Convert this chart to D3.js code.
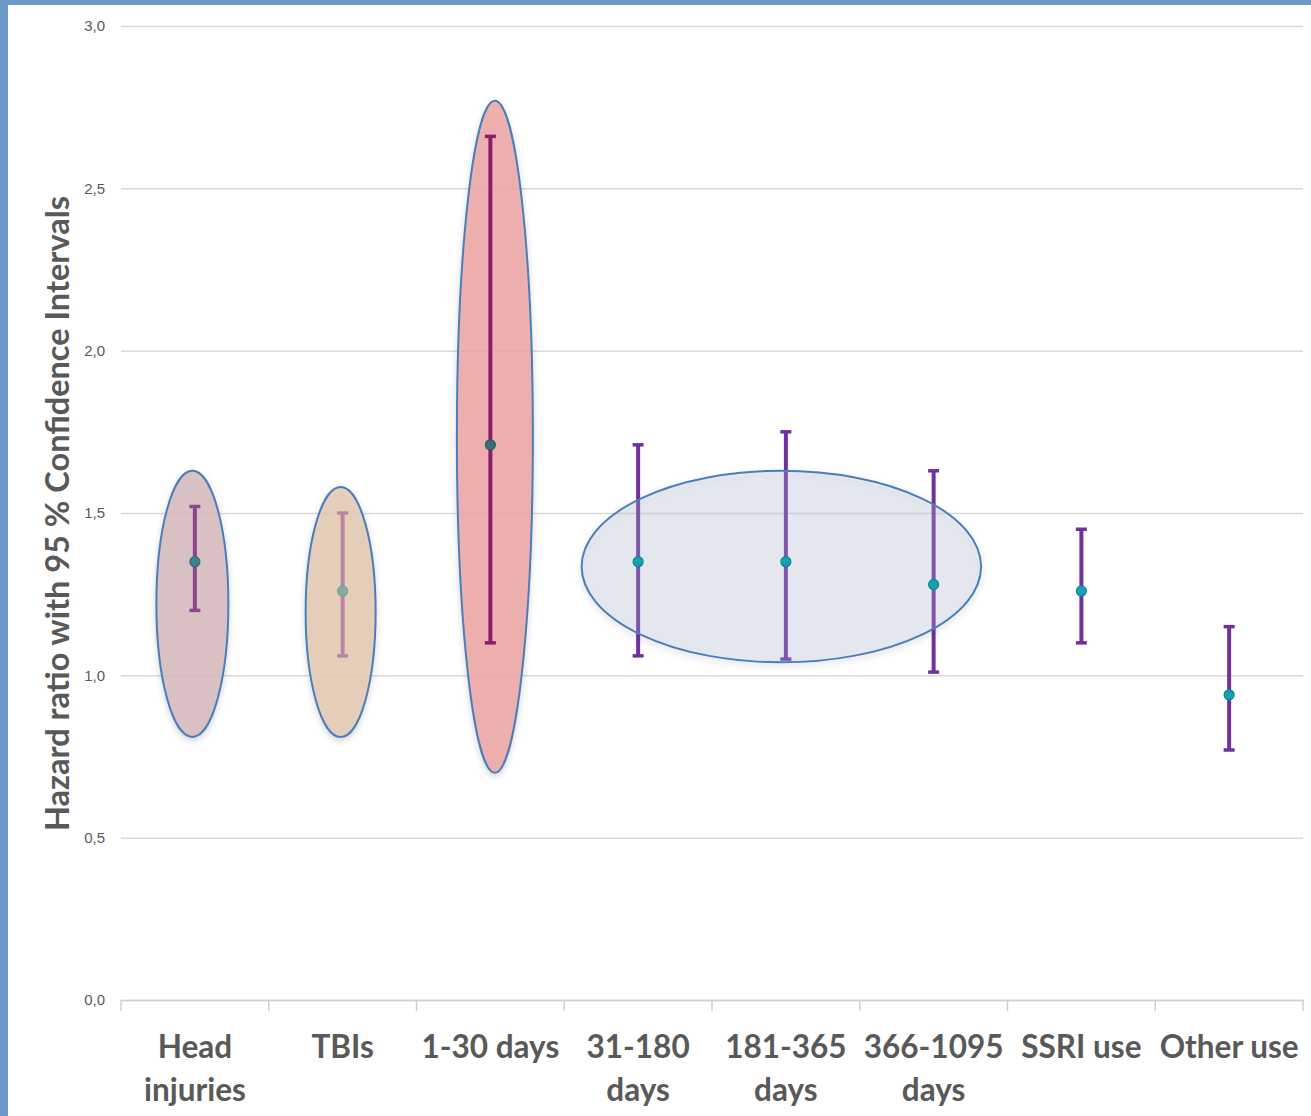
<!DOCTYPE html>
<html>
<head>
<meta charset="utf-8">
<script src="https://cdn.jsdelivr.net/npm/d3@7"></script>
<style>
  html, body { margin: 0; padding: 0; background: #fff; }
  svg { display: block; }
</style>
</head>
<body>
<svg id="chart" width="1311" height="1116"></svg>
<script>
// ---- data ----
const categories = ["Head injuries", "TBIs", "1-30 days", "31-180 days", "181-365 days", "366-1095 days", "SSRI use", "Other use"];
const labelLines = [["Head", "injuries"], ["TBIs"], ["1-30 days"], ["31-180", "days"], ["181-365", "days"], ["366-1095", "days"], ["SSRI use"], ["Other use"]];
const hazardRatio = [1.35, 1.26, 1.71, 1.35, 1.35, 1.28, 1.26, 0.94];
const ciLower     = [1.20, 1.06, 1.10, 1.06, 1.05, 1.01, 1.10, 0.77];
const ciUpper     = [1.52, 1.50, 2.66, 1.71, 1.75, 1.63, 1.45, 1.15];
const yTicks = [0, 0.5, 1.0, 1.5, 2.0, 2.5, 3.0];
const yTitle = "Hazard ratio with 95 % Confidence Intervals";

// highlight ellipses: first/last category spanned, value range covered
const ellipseFirst = ["Head injuries", "TBIs", "1-30 days", "31-180 days"];
const ellipseLast  = ["Head injuries", "TBIs", "1-30 days", "366-1095 days"];
const ellipseTop    = [1.63, 1.58, 2.77, 1.63];
const ellipseBottom = [0.81, 0.81, 0.70, 1.04];

// ---- styles ----
const ellipseFill = ["#d6b8bc", "#e4c9b1", "#eda6a4", "#b2bbd0"];
const ellipseFillOpacity = [0.85, 0.85, 0.85, 0.26];
const ellipsePadPx = [36, 35, 38, 52];
const ellipseDxPx = [-2.5, -2, 4.5, -4.5];
const barColors = ["#8c468e", "#b8879f", "#8a1c6c", "#7030a0", "#7030a0", "#7030a0", "#7030a0", "#7030a0"];
const pointFill = ["#3a8390", "#82b0a0", "#3a6e78", "#17a0b4", "#17a0b4", "#17a0b4", "#17a0b4", "#17a0b4"];
const pointStroke = ["#2e6f7a", "#77a292", "#2c5a63", "#0f8494", "#0f8494", "#0f8494", "#0f8494", "#0f8494"];

const svg = d3.select("#chart");
const W = 1311, H = 1116;
const margin = { left: 121, right: 8, top: 26, bottom: 116 };

// frame border (blue)
svg.append("rect").attr("x", 0).attr("y", 0).attr("width", W).attr("height", 5).attr("fill", "#6b98c9");
svg.append("rect").attr("x", 0).attr("y", 0).attr("width", 8).attr("height", H).attr("fill", "#6b98c9");

const x = d3.scaleBand().domain(categories).range([margin.left, W - margin.right]).padding(0);
const y = d3.scaleLinear().domain([0, 3]).range([H - margin.bottom, margin.top]);

// defs: shadow
const defs = svg.append("defs");
const f = defs.append("filter").attr("id", "shadow").attr("x", "-20%").attr("y", "-20%").attr("width", "140%").attr("height", "140%");
f.append("feDropShadow").attr("dx", 0).attr("dy", 3).attr("stdDeviation", 3).attr("flood-color", "#000").attr("flood-opacity", 0.18);

// gridlines
const yAxisG = svg.append("g").attr("transform", `translate(${margin.left},0)`)
  .call(d3.axisLeft(y).tickValues(yTicks).tickSize(-(W - margin.right - margin.left)).tickPadding(16)
    .tickFormat(d => d3.format(".1f")(d).replace(".", ",")));
yAxisG.select(".domain").remove();
yAxisG.selectAll(".tick line").attr("stroke", "#d9d9d9").attr("stroke-width", 1.5);
yAxisG.selectAll(".tick text").attr("fill", "#595959").attr("font-family", "'Liberation Sans', Arial, sans-serif").attr("font-size", 15);

// x axis line + separators
const xAxisG = svg.append("g").attr("transform", `translate(0,${y(0)})`)
  .call(d3.axisBottom(x).tickValues([]).tickSizeOuter(0));
xAxisG.select(".domain").attr("stroke", "#d0d0d0").attr("stroke-width", 1.5);
const bounds = categories.map(c => x(c)).concat([x(categories[categories.length - 1]) + x.bandwidth()]);
xAxisG.selectAll("line.sep").data(bounds).enter().append("line").attr("class", "sep")
  .attr("x1", d => d).attr("x2", d => d).attr("y1", 0).attr("y2", 11)
  .attr("stroke", "#d0d0d0").attr("stroke-width", 1.5);

// x labels
const cx = c => x(c) + x.bandwidth() / 2;
const lab = svg.append("g");
categories.forEach((c, i) => {
  const t = lab.append("text").attr("x", cx(c)).attr("y", 1058)
    .attr("text-anchor", "middle").attr("fill", "#595959")
    .attr("font-family", "Lato, 'Open Sans', sans-serif").attr("font-weight", "bold").attr("font-size", 31.5);
  labelLines[i].forEach((ln, j) => {
    t.append("tspan").attr("x", cx(c)).attr("dy", j === 0 ? 0 : 43).text(ln);
  });
});

// y title
svg.append("text")
  .attr("transform", `translate(69,${(195 + 832) / 2}) rotate(-90)`)
  .attr("text-anchor", "middle").attr("fill", "#595959")
  .attr("font-family", "Lato, 'Open Sans', sans-serif").attr("font-weight", "bold").attr("font-size", 32.5)
  .text(yTitle);

function drawEllipse(g, i) {
  const x1 = cx(ellipseFirst[i]), x2 = cx(ellipseLast[i]);
  g.append("ellipse")
    .attr("cx", (x1 + x2) / 2 + ellipseDxPx[i])
    .attr("cy", (y(ellipseTop[i]) + y(ellipseBottom[i])) / 2)
    .attr("rx", (x2 - x1) / 2 + ellipsePadPx[i])
    .attr("ry", (y(ellipseBottom[i]) - y(ellipseTop[i])) / 2)
    .attr("fill", ellipseFill[i]).attr("fill-opacity", ellipseFillOpacity[i])
    .attr("stroke", "#4a7ebb").attr("stroke-width", 2)
    .attr("filter", "url(#shadow)");
}

// ellipses behind bars
const eBack = svg.append("g");
[0, 1, 2].forEach(i => drawEllipse(eBack, i));

// error bars
const bars = svg.append("g");
categories.forEach((c, i) => {
  const g = bars.append("g");
  g.append("line").attr("x1", cx(c)).attr("x2", cx(c)).attr("y1", y(ciLower[i])).attr("y2", y(ciUpper[i]))
    .attr("stroke", barColors[i]).attr("stroke-width", 4);
  [ciLower[i], ciUpper[i]].forEach(v => {
    g.append("line").attr("x1", cx(c) - 5.5).attr("x2", cx(c) + 5.5).attr("y1", y(v)).attr("y2", y(v))
      .attr("stroke", barColors[i]).attr("stroke-width", 3.5);
  });
});

// big ellipse in front of bars
const eFront = svg.append("g");
drawEllipse(eFront, 3);

// points
svg.append("g").selectAll("circle").data(categories).enter().append("circle")
  .attr("cx", d => cx(d)).attr("cy", (d, i) => y(hazardRatio[i])).attr("r", 5)
  .attr("fill", (d, i) => pointFill[i]).attr("stroke", (d, i) => pointStroke[i]).attr("stroke-width", 1.2);
</script>
</body>
</html>
